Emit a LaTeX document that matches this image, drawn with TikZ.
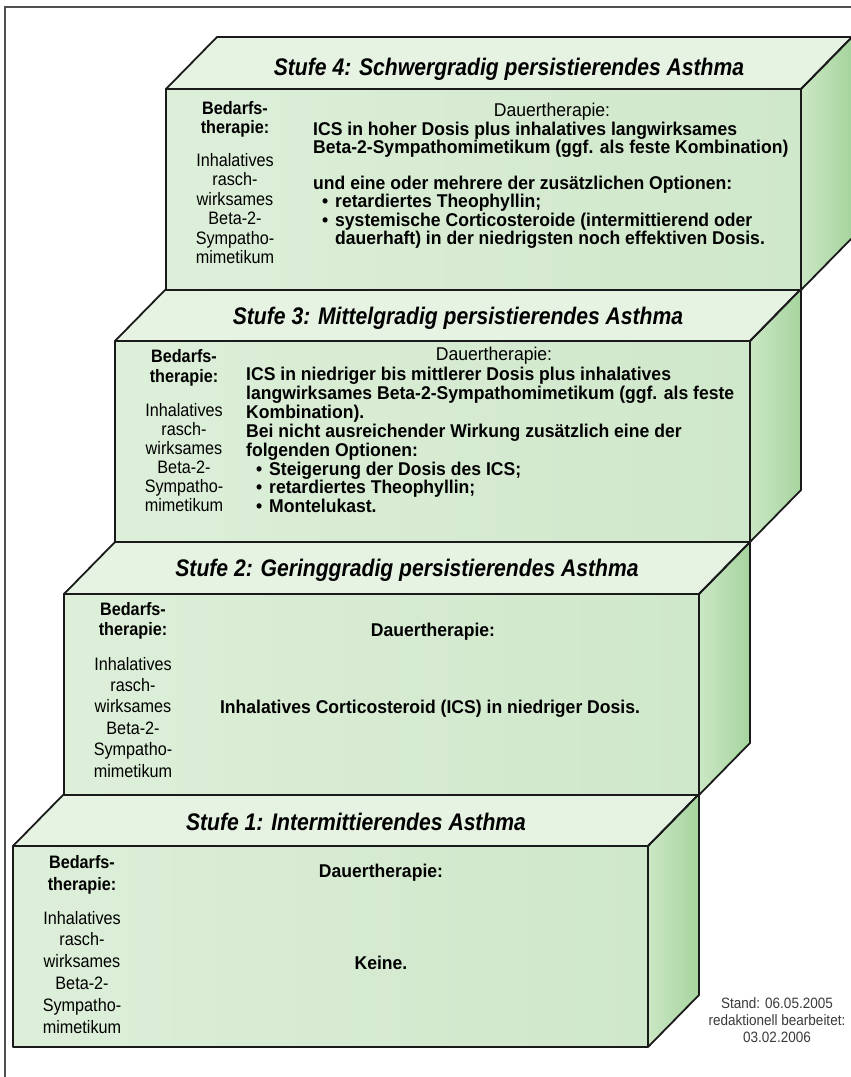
\documentclass[tikz,border=0pt]{standalone}
\usepackage{fontspec}
\setmainfont{Liberation Sans}
\newfontfamily\ttlfont{Liberation Sans}[FakeStretch=0.88]
\newfontfamily\bodyfont{Liberation Sans}[FakeStretch=0.95]
\newfontfamily\leftfont{Liberation Sans}[FakeStretch=0.9]
\definecolor{frontL}{HTML}{DDEFD9}
\definecolor{frontR}{HTML}{CFE7CA}
\definecolor{topc}{HTML}{E6F2E2}
\definecolor{sideL}{HTML}{CBE7C5}
\definecolor{sideR}{HTML}{A6D49E}
\definecolor{edgec}{HTML}{1A1A1A}
\definecolor{framec}{HTML}{505050}
\definecolor{standc}{HTML}{3A3A3A}
\tikzset{
  edgeline/.style={draw=edgec, line width=1.8pt, line join=round},
  ttl/.style={font=\ttlfont\fontsize{24}{27}\selectfont\bfseries\itshape, inner sep=0pt, anchor=base},
  lhead/.style={font=\leftfont\fontsize{18}{20}\selectfont\bfseries, inner sep=0pt, anchor=base},
  lbody/.style={font=\leftfont\fontsize{18}{20}\selectfont, inner sep=0pt, anchor=base},
  rhead/.style={font=\bodyfont\fontsize{18.5}{20}\selectfont, inner sep=0pt, anchor=base},
  rheadb/.style={font=\bodyfont\fontsize{18.5}{20}\selectfont\bfseries, inner sep=0pt, anchor=base},
  rbody/.style={font=\bodyfont\fontsize{18.5}{20}\selectfont\bfseries, inner sep=0pt, anchor=base west},
  rmid/.style={font=\bodyfont\fontsize{18.5}{20}\selectfont\bfseries, inner sep=0pt, anchor=base},
  stand/.style={font=\leftfont\fontsize{15}{17}\selectfont, text=standc, inner sep=0pt, anchor=base},
}
% #1 = left x of front face, #2 = top y of front face
\newcommand\stepbox[2]{%
  \fill[topc] (#1,#2) -- (#1+51,#2-52) -- (#1+686,#2-52) -- (#1+635,#2) -- cycle;
  \shade[left color=frontL, right color=frontR] (#1,#2) rectangle (#1+635,#2+201);
  \shade[left color=sideL, right color=sideR] (#1+635,#2) -- (#1+686,#2-52) -- (#1+686,#2+149) -- (#1+635,#2+201) -- cycle;
  \draw[edgeline] (#1,#2) -- (#1+51,#2-52) -- (#1+686,#2-52) -- (#1+635,#2) -- cycle;
  \draw[edgeline] (#1,#2) rectangle (#1+635,#2+201);
  \draw[edgeline] (#1+635,#2) -- (#1+686,#2-52) -- (#1+686,#2+149) -- (#1+635,#2+201);
}
% left column: #1 prefix, #2 x centre, #3..#4 head baselines, #5 first body baseline, #6 spacing
\newcommand\leftcol[6]{%
  \node[lhead] (#1-h1) at (#2,#3) {Bedarfs-};
  \node[lhead] (#1-h2) at (#2,#4) {therapie:};
  \node[lbody] (#1-b1) at (#2,#5) {Inhalatives};
  \node[lbody] (#1-b2) at (#2,#5+#6) {rasch-};
  \node[lbody] (#1-b3) at (#2,#5+2*#6) {wirksames};
  \node[lbody] (#1-b4) at (#2,#5+3*#6) {Beta-2-};
  \node[lbody] (#1-b5) at (#2,#5+4*#6) {Sympatho-};
  \node[lbody] (#1-b6) at (#2,#5+5*#6) {mimetikum};
}
\begin{document}
\begin{tikzpicture}[x=1pt,y=-1pt]
\useasboundingbox (0,0) rectangle (851,1077);
\fill[white] (0,0) rectangle (851,1077);
\draw[framec, line width=1.2pt] (5,1077) -- (5,7) -- (851,7);

% ---------- Stufe 1 ----------
\stepbox{13}{846}
\node[ttl] (t1) at (356,830) {Stufe 1: Intermittierendes Asthma};
\leftcol{l1}{82}{868}{890}{924}{21.8}
\node[rheadb] (d1) at (381,877) {Dauertherapie:};
\node[rmid] (k1) at (381,969) {Keine.};
\node[stand] (s1) at (777,1008) {Stand: 06.05.2005};
\node[stand] (s2) at (777,1025) {redaktionell bearbeitet:};
\node[stand] (s3) at (777,1042) {03.02.2006};

% ---------- Stufe 2 ----------
\stepbox{64}{594}
\node[ttl] (t2) at (407,576) {Stufe 2: Geringgradig persistierendes Asthma};
\leftcol{l2}{133}{615}{635}{670}{21.4}
\node[rheadb] (d2) at (433,636) {Dauertherapie:};
\node[rmid] (k2) at (430,713) {Inhalatives Corticosteroid (ICS) in niedriger Dosis.};

% ---------- Stufe 3 ----------
\stepbox{115}{341}
\node[ttl] (t3) at (458,324) {Stufe 3: Mittelgradig persistierendes Asthma};
\leftcol{l3}{184}{362}{382}{416}{19}
\node[rhead] (d3) at (494,360) {Dauertherapie:};
\node[rbody] (r3-1) at (246,380) {ICS in niedriger bis mittlerer Dosis plus inhalatives};
\node[rbody] (r3-2) at (246,399) {langwirksames Beta-2-Sympathomimetikum (ggf. als feste};
\node[rbody] (r3-3) at (246,418) {Kombination).};
\node[rbody] (r3-4) at (246,437) {Bei nicht ausreichender Wirkung zusätzlich eine der};
\node[rbody] (r3-5) at (246,456) {folgenden Optionen:};
\node[rbody] (r3-6) at (256,475) {•};
\node[rbody] (r3-7) at (269,475) {Steigerung der Dosis des ICS;};
\node[rbody] (r3-8) at (256,493) {•};
\node[rbody] (r3-9) at (269,493) {retardiertes Theophyllin;};
\node[rbody] (r3-10) at (256,512) {•};
\node[rbody] (r3-11) at (269,512) {Montelukast.};

% ---------- Stufe 4 ----------
\stepbox{166}{89}
\node[ttl] (t4) at (509,75) {Stufe 4: Schwergradig persistierendes Asthma};
\leftcol{l4}{235}{114}{133}{166}{19.5}
\node[rhead] (d4) at (552,116) {Dauertherapie:};
\node[rbody] (r4-1) at (313,135) {ICS in hoher Dosis plus inhalatives langwirksames};
\node[rbody] (r4-2) at (313,153.6) {Beta-2-Sympathomimetikum (ggf. als feste Kombination)};
\node[rbody] (r4-3) at (313,189) {und eine oder mehrere der zusätzlichen Optionen:};
\node[rbody] (r4-4) at (322,207.6) {•};
\node[rbody] (r4-5) at (335,207.6) {retardiertes Theophyllin;};
\node[rbody] (r4-6) at (322,226.2) {•};
\node[rbody] (r4-7) at (335,226.2) {systemische Corticosteroide (intermittierend oder};
\node[rbody] (r4-8) at (335,244.8) {dauerhaft) in der niedrigsten noch effektiven Dosis.};
\end{tikzpicture}
\end{document}
